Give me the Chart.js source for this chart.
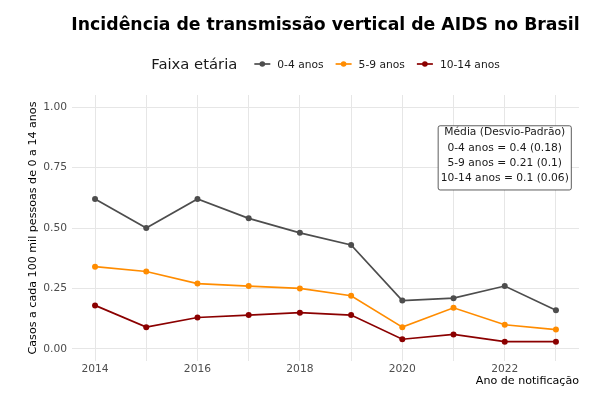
<!DOCTYPE html>
<html>
<head>
<meta charset="utf-8">
<script src="https://cdn.jsdelivr.net/npm/chart.js@4.4.1/dist/chart.umd.min.js"></script>
<style>
  html, body { margin: 0; padding: 0; background: #ffffff; }
  #wrap { width: 596px; height: 396px; }
</style>
</head>
<body>
<div id="wrap"><canvas id="graphAids"></canvas></div>
<script>
const years = [2014, 2015, 2016, 2017, 2018, 2019, 2020, 2021, 2022, 2023];
const casos_0_4 = [0.62, 0.50, 0.62, 0.54, 0.48, 0.43, 0.20, 0.21, 0.26, 0.16];
const casos_5_9 = [0.34, 0.32, 0.27, 0.26, 0.25, 0.22, 0.09, 0.17, 0.10, 0.08];
const casos_10_14 = [0.18, 0.09, 0.13, 0.14, 0.15, 0.14, 0.04, 0.06, 0.03, 0.03];
const seriesNames = ['0-4 anos', '5-9 anos', '10-14 anos'];
const seriesColors = ['#4d4d4d', '#ff8c00', '#8b0000'];
const yTicks = [0, 0.25, 0.5, 0.75, 1];
const xTickLabels = [2014, 2016, 2018, 2020, 2022];
const statsLines = [
    'Média (Desvio-Padrão)',
    '0-4 anos = 0.4 (0.18)',
    '5-9 anos = 0.21 (0.1)',
    '10-14 anos = 0.1 (0.06)'
];
const statsAnchor = { x: 2022, y: 0.79 };

Chart.defaults.font.family = "'DejaVu Sans', sans-serif";

function toPoints(values) {
    return years.map((yr, i) => ({ x: yr, y: values[i] }));
}

function create_Datasets() {
    return [casos_0_4, casos_5_9, casos_10_14].map((values, i) => ({
        label: seriesNames[i],
        data: toPoints(values),
        borderColor: seriesColors[i],
        backgroundColor: seriesColors[i],
        borderWidth: 1.7,
        pointRadius: 3,
        pointHoverRadius: 3,
        pointBorderWidth: 0,
        fill: false,
        tension: 0
    }));
}

// title + inline legend ("Faixa etária" followed by the keys), centred on the panel
const headerPlugin = {
    id: 'header',
    afterDraw(chart) {
        const ctx = chart.ctx;
        const area = chart.chartArea;
        const cx = (area.left + area.right) / 2;
        ctx.save();

        ctx.font = "bold 17.3px 'DejaVu Sans'";
        ctx.fillStyle = '#000000';
        ctx.textAlign = 'center';
        ctx.textBaseline = 'alphabetic';
        ctx.fillText('Incidência de transmissão vertical de AIDS no Brasil', cx, 30);

        const titleFont = "14.8px 'DejaVu Sans'";
        const itemFont = "10.7px 'DejaVu Sans'";
        const keyW = 16, afterTitle = 17, afterKey = 7, itemGap = 12;
        ctx.font = titleFont;
        const titleW = ctx.measureText('Faixa etária').width;
        ctx.font = itemFont;
        const itemW = seriesNames.map(n => ctx.measureText(n).width);
        let total = titleW + afterTitle;
        itemW.forEach((w, i) => { total += keyW + afterKey + w + (i < itemW.length - 1 ? itemGap : 0); });

        const baseY = 69.3;
        const midY = 64;
        let x = cx - total / 2;
        ctx.textAlign = 'left';
        ctx.font = titleFont;
        ctx.fillStyle = '#1a1a1a';
        ctx.fillText('Faixa etária', x, baseY);
        x += titleW + afterTitle;
        ctx.font = itemFont;
        seriesNames.forEach((name, i) => {
            ctx.strokeStyle = seriesColors[i];
            ctx.fillStyle = seriesColors[i];
            ctx.lineWidth = 1.7;
            ctx.beginPath();
            ctx.moveTo(x, midY);
            ctx.lineTo(x + keyW, midY);
            ctx.stroke();
            ctx.beginPath();
            ctx.arc(x + keyW / 2, midY, 2.8, 0, Math.PI * 2);
            ctx.fill();
            x += keyW + afterKey;
            ctx.fillStyle = '#1a1a1a';
            ctx.fillText(name, x, baseY - 1.5);
            x += itemW[i] + itemGap;
        });
        ctx.restore();
    }
};

// mean / sd label box, anchored in data coordinates
const statsPlugin = {
    id: 'statsBox',
    afterDatasetsDraw(chart) {
        const ctx = chart.ctx;
        const px = chart.scales.x.getPixelForValue(statsAnchor.x);
        const py = chart.scales.y.getPixelForValue(statsAnchor.y);
        const lineH = 15.3;
        ctx.save();
        ctx.font = "10.7px 'DejaVu Sans'";
        const w = Math.max(...statsLines.map(s => ctx.measureText(s).width)) + 5;
        const h = lineH * statsLines.length + 3;
        const left = px - w / 2, top = py - h / 2;
        ctx.fillStyle = '#ffffff';
        ctx.strokeStyle = '#333333';
        ctx.lineWidth = 0.8;
        ctx.beginPath();
        ctx.roundRect(left, top, w, h, 2);
        ctx.fill();
        ctx.stroke();
        ctx.fillStyle = '#1a1a1a';
        ctx.textAlign = 'center';
        ctx.textBaseline = 'alphabetic';
        statsLines.forEach((s, i) => {
            ctx.fillText(s, px, top + 9.5 + i * lineH);
        });
        ctx.restore();
    }
};

function create_Graph() {
    const context = document.getElementById('graphAids').getContext('2d');
    new Chart(context, {
        type: 'line',
        data: { datasets: create_Datasets() },
        options: {
            responsive: true,
            maintainAspectRatio: false,
            animation: false,
            layout: { padding: { top: 95, left: 0, right: 17, bottom: 0 } },
            plugins: {
                legend: { display: false },
                title: { display: false },
                tooltip: { enabled: false }
            },
            scales: {
                x: {
                    type: 'linear',
                    min: 2013.55,
                    max: 2023.45,
                    afterBuildTicks: axis => { axis.ticks = years.map(v => ({ value: v })); },
                    afterFit: axis => { axis.height = 35; },
                    border: { display: false },
                    grid: { color: '#e6e6e6', lineWidth: 1, drawTicks: false },
                    ticks: {
                        autoSkip: false,
                        maxRotation: 0,
                        padding: 2,
                        color: '#4d4d4d',
                        font: { size: 10.7 },
                        callback: v => xTickLabels.includes(v) ? String(v) : ''
                    },
                    title: {
                        display: true,
                        text: 'Ano de notificação',
                        align: 'end',
                        color: '#000000',
                        font: { size: 11.1 },
                        padding: { top: 0, bottom: 8 }
                    }
                },
                y: {
                    min: -0.05,
                    max: 1.05,
                    afterBuildTicks: axis => { axis.ticks = yTicks.map(v => ({ value: v })); },
                    afterFit: axis => { axis.width = 72; },
                    border: { display: false },
                    grid: { color: '#e6e6e6', lineWidth: 1, drawTicks: false },
                    ticks: {
                        padding: 5,
                        color: '#4d4d4d',
                        font: { size: 10.7 },
                        callback: v => v.toFixed(2)
                    },
                    title: {
                        display: true,
                        text: 'Casos a cada 100 mil pessoas de 0 a 14 anos',
                        color: '#000000',
                        font: { size: 11.1 },
                        padding: { top: 26, bottom: 0 }
                    }
                }
            }
        },
        plugins: [headerPlugin, statsPlugin]
    });
}

window.onload = create_Graph;
</script>
</body>
</html>
